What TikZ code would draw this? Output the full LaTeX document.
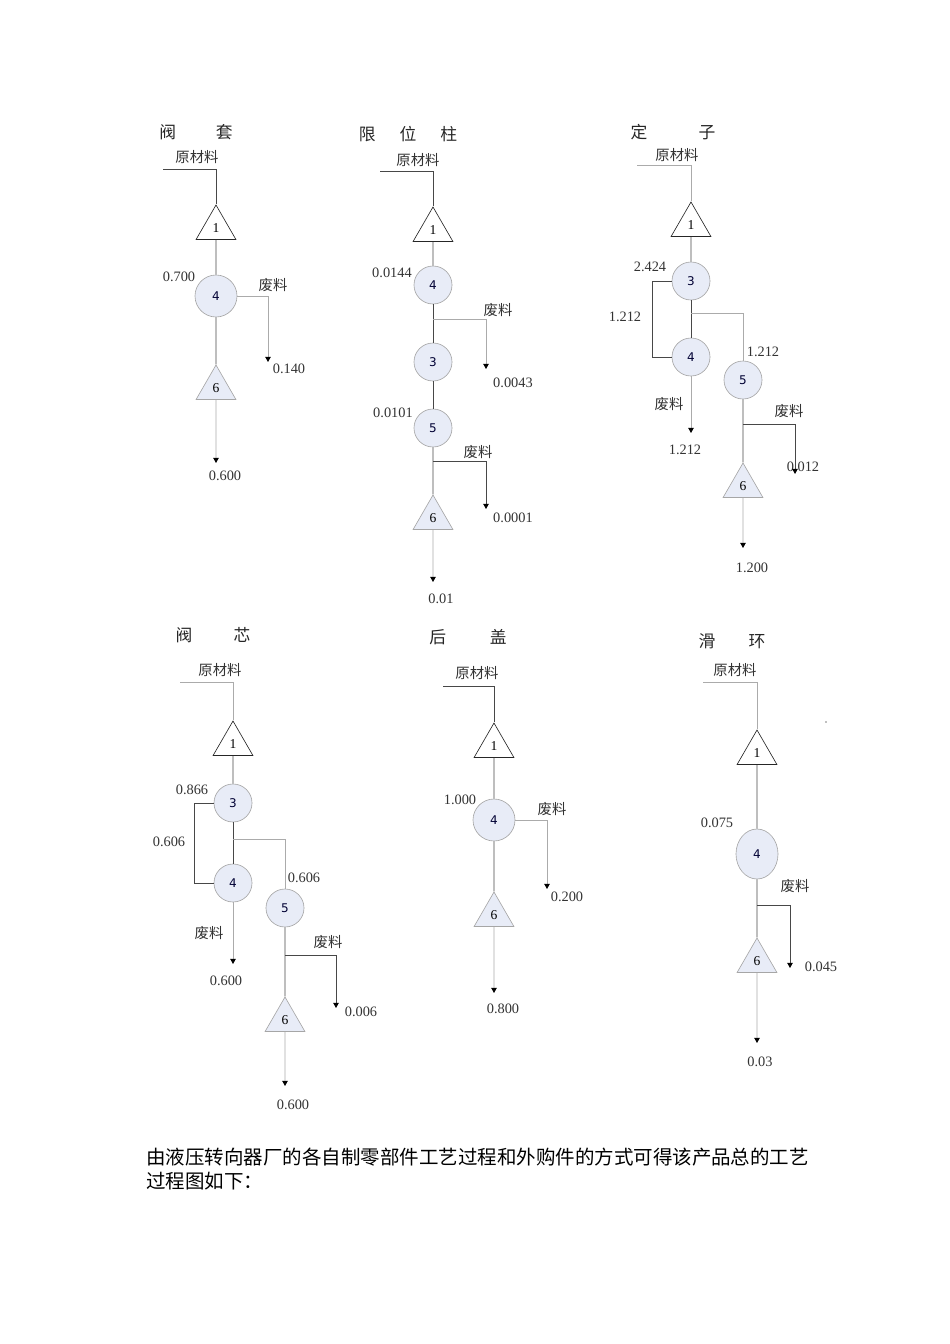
\documentclass[tikz,border=0pt]{standalone}
\usepackage{fontspec}
\setmainfont{Liberation Serif}
\newfontfamily\cjk{Noto Sans CJK SC}
\newfontfamily\dejavu{DejaVu Sans}
\usepackage{tikz}
\usetikzlibrary{shapes.geometric,arrows.meta}
\definecolor{opfill}{HTML}{E8ECF7}
\definecolor{opline}{HTML}{A6A6A6}
\definecolor{txt}{HTML}{333333}
\tikzstyle{flow} = [draw=black!72, line width=0.6pt]
\tikzstyle{faint} = [draw=black!33, line width=0.6pt]
\tikzstyle{outarrow} = [-{Triangle[length=3.2pt,width=3.4pt,color=black]}]
\tikzstyle{proc} = [circle, draw=opline, fill=opfill, minimum size=23.8pt, font=\dejavu\fontsize{7.5}{8}\selectfont, text=black!80!blue]
\tikzstyle{bigproc} = [proc, minimum size=26.3pt]
\tikzstyle{src} = [regular polygon, regular polygon sides=3, draw=black!85, fill=white, minimum size=28.8pt, font=\fontsize{8.5}{9}\selectfont]
\tikzstyle{store} = [src, draw=opline, fill=opfill]
\tikzstyle{num} = [font=\fontsize{9}{10}\selectfont, text=txt]
\tikzstyle{cjklab} = [font=\cjk\fontsize{9}{10}\selectfont, text=txt]
\tikzstyle{heading} = [font=\cjk\fontsize{10.5}{12}\selectfont, text=black!85]
\tikzstyle{para} = [font=\cjk\fontsize{12.2}{15}\selectfont, align=left, anchor=north west]

\begin{document}
\begin{tikzpicture}[x=0.626pt, y=-0.626pt, every node/.style={inner sep=0pt}]
		\useasboundingbox (0,0) rectangle (950,1344);
		% 阀套
		\node[heading] (tA) at (196,132) {阀\hspace{25pt}套};
		\node[cjklab] (mA) at (197,157) {原材料};
		\coordinate (rA) at (163,169);
		\node[src] (A1) at (216,228) {1};
		\node[bigproc] (A4) at (216,296) {4};
		\node[store] (A6) at (216,388) {6};
		\coordinate (aA) at (268,362);
		\coordinate (oA) at (216,463);
		\node[num] (nA4) at (179,277) {0.700};
		\node[cjklab] (wA) at (273,285) {废料};
		\node[num] (nAw) at (289,369) {0.140};
		\node[num] (nAo) at (225,476) {0.600};
		\draw[flow] (rA) -| (A1.north);
		\draw[flow] (A1.south) -- (A4.north);
		\draw[flow] (A4.south) -- (A6.north);
		\draw[faint,outarrow] (A4.east) -| (aA);
		\draw[faint,outarrow] (A6.south) -- (oA);
		% 限位柱
		\node[heading] (tB) at (408,134) {限\hspace{15pt}位\hspace{15pt}柱};
		\node[cjklab] (mB) at (418,160) {原材料};
		\coordinate (rB) at (380,171);
		\node[src] (B1) at (433,230) {1};
		\node[proc] (B4) at (433,285) {4};
		\node[proc] (B3) at (433,362) {3};
		\node[proc] (B5) at (433,428) {5};
		\node[store] (B6) at (433,518) {6};
		\coordinate (kB) at (433,319);
		\coordinate (aB) at (486,369);
		\coordinate (kB2) at (433,461);
		\coordinate (aB2) at (486,509);
		\coordinate (oB) at (433,582);
		\node[num] (nB4) at (392,273) {0.0144};
		\node[cjklab] (wB) at (498,310) {废料};
		\node[num] (nBw) at (513,383) {0.0043};
		\node[num] (nB5) at (393,413) {0.0101};
		\node[cjklab] (wB2) at (478,452) {废料};
		\node[num] (nBw2) at (513,518) {0.0001};
		\node[num] (nBo) at (441,599) {0.01};
		\draw[flow] (rB) -| (B1.north);
		\draw[flow] (B1.south) -- (B4.north);
		\draw[flow] (B4.south) -- (B3.north);
		\draw[flow] (B3.south) -- (B5.north);
		\draw[flow] (B5.south) -- (B6.north);
		\draw[faint,outarrow] (kB) -| (aB);
		\draw[flow,outarrow] (kB2) -| (aB2);
		\draw[faint,outarrow] (B6.south) -- (oB);
		% 定子
		\node[heading] (tC) at (673,132) {定\hspace{32pt}子};
		\node[cjklab] (mC) at (677,155) {原材料};
		\coordinate (rC) at (637,165);
		\node[src] (C1) at (691,225) {1};
		\node[proc] (C3) at (691,281) {3};
		\node[proc] (C4) at (691,357) {4};
		\node[proc] (C5) at (743,380) {5};
		\node[store] (C6) at (743,486) {6};
		\coordinate (lC) at (652,281);
		\coordinate (kC) at (691,313);
		\coordinate (oC4) at (691,433);
		\coordinate (kC2) at (743,424);
		\coordinate (aC) at (795,474);
		\coordinate (oC) at (743,548);
		\node[num] (nC3) at (650,267) {2.424};
		\node[num] (nCl) at (625,317) {1.212};
		\node[num] (nC5) at (763,352) {1.212};
		\node[cjklab] (wC4) at (669,404) {废料};
		\node[num] (nC4) at (685,450) {1.212};
		\node[cjklab] (wC) at (789,411) {废料};
		\node[num] (nCw) at (803,467) {0.012};
		\node[num] (nCo) at (752,568) {1.200};
		\draw[faint] (rC) -| (C1.north);
		\draw[flow] (C1.south) -- (C3.north);
		\draw[flow] (C3.west) -- (lC) |- (C4.west);
		\draw[flow] (C3.south) -- (C4.north);
		\draw[faint] (kC) -| (C5.north);
		\draw[faint,outarrow] (C4.south) -- (oC4);
		\draw[flow] (C5.south) -- (C6.north);
		\draw[flow,outarrow] (kC2) -| (aC);
		\draw[faint,outarrow] (C6.south) -- (oC);
		% 阀芯
		\node[heading] (tD) at (213,635) {阀\hspace{25.7pt}芯};
		\node[cjklab] (mD) at (220,670) {原材料};
		\coordinate (rD) at (180,682);
		\node[src] (D1) at (233,744) {1};
		\node[proc] (D3) at (233,803) {3};
		\node[proc] (D4) at (233,883) {4};
		\node[proc] (D5) at (285,908) {5};
		\node[store] (D6) at (285,1020) {6};
		\coordinate (lD) at (194,803);
		\coordinate (kD) at (233,839);
		\coordinate (oD4) at (233,964);
		\coordinate (kD2) at (285,955);
		\coordinate (aD) at (336,1008);
		\coordinate (oD) at (285,1086);
		\node[num] (nD3) at (192,790) {0.866};
		\node[num] (nDl) at (169,842) {0.606};
		\node[num] (nD5) at (304,878) {0.606};
		\node[cjklab] (wD4) at (209,933) {废料};
		\node[num] (nD4) at (226,981) {0.600};
		\node[cjklab] (wD) at (328,942) {废料};
		\node[num] (nDw) at (361,1012) {0.006};
		\node[num] (nDo) at (293,1105) {0.600};
		\draw[faint] (rD) -| (D1.north);
		\draw[flow] (D1.south) -- (D3.north);
		\draw[flow] (D3.west) -- (lD) |- (D4.west);
		\draw[flow] (D3.south) -- (D4.north);
		\draw[faint] (kD) -| (D5.north);
		\draw[faint,outarrow] (D4.south) -- (oD4);
		\draw[flow] (D5.south) -- (D6.north);
		\draw[flow,outarrow] (kD2) -| (aD);
		\draw[faint,outarrow] (D6.south) -- (oD);
		% 后盖
		\node[heading] (tE) at (468,637) {后\hspace{27.5pt}盖};
		\node[cjklab] (mE) at (477,673) {原材料};
		\coordinate (rE) at (443,686);
		\node[src] (E1) at (494,746) {1};
		\node[bigproc] (E4) at (494,820) {4};
		\node[store] (E6) at (494,915) {6};
		\coordinate (aE) at (547,889);
		\coordinate (oE) at (494,993);
		\node[num] (nE4) at (460,800) {1.000};
		\node[cjklab] (wE) at (552,809) {废料};
		\node[num] (nEw) at (567,897) {0.200};
		\node[num] (nEo) at (503,1009) {0.800};
		\draw[flow] (rE) -| (E1.north);
		\draw[flow] (E1.south) -- (E4.north);
		\draw[flow] (E4.south) -- (E6.north);
		\draw[faint,outarrow] (E4.east) -| (aE);
		\draw[faint,outarrow] (E6.south) -- (oE);
		% 滑环
		\node[heading] (tF) at (732,641) {滑\hspace{20.7pt}环};
		\node[cjklab] (mF) at (735,670) {原材料};
		\coordinate (rF) at (703,682);
		\node[src] (F1) at (757,753) {1};
		\node[proc, ellipse, minimum width=26.3pt, minimum height=31.3pt] (F4) at (757,854) {4};
		\node[store] (F6) at (757,961) {6};
		\coordinate (kF) at (757,905);
		\coordinate (aF) at (790,968);
		\coordinate (oF) at (757,1043);
		\node[num] (nF4) at (717,823) {0.075};
		\node[cjklab] (wF) at (795,886) {废料};
		\node[num] (nFw) at (821,967) {0.045};
		\node[num] (nFo) at (760,1062) {0.03};
		\draw[faint] (rF) -| (F1.north);
		\draw[flow] (F1.south) -- (F4.north);
		\draw[flow] (F4.south) -- (F6.north);
		\draw[flow,outarrow] (kF) -| (aF);
		\draw[faint,outarrow] (F6.south) -- (oF);
		\fill[black!50] (826,722) circle (0.5pt);
		\node[para] (note) at (146,1148) {由液压转向器厂的各自制零部件工艺过程和外购件的方式可得该产品总的工艺\\过程图如下：};
\end{tikzpicture}
\end{document}
